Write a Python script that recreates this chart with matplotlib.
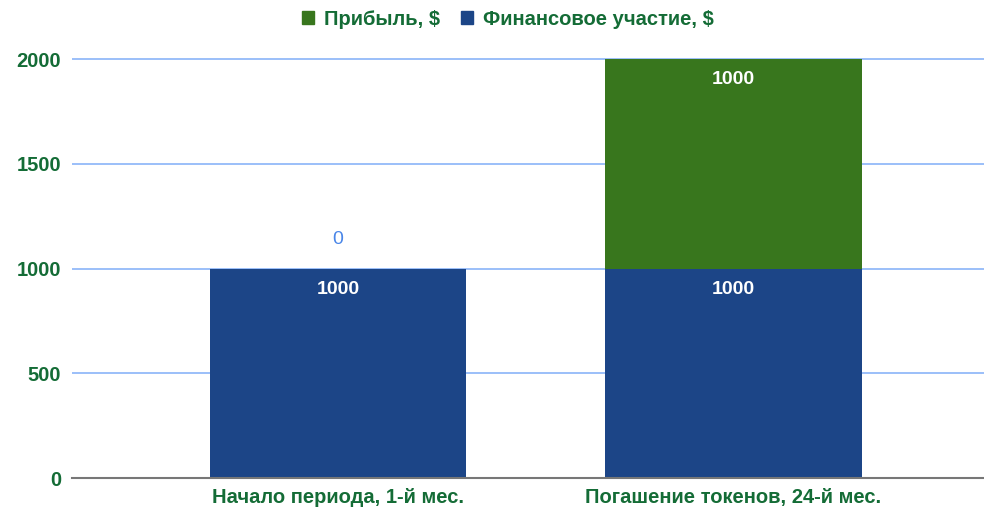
from matplotlib import pyplot as plt
import numpy as np

# chart data
categories = ["Начало периода, 1-й мес.", "Погашение токенов, 24-й мес."]
invest = [1000, 1000]		# Финансовое участие, $
profit = [0, 1000]			# Прибыль, $
yticks = [0, 500, 1000, 1500, 2000]

green = "#38761d"
blue = "#1c4587"
text_green = "#146c36"

plt.rcParams['font.family'] = ['Liberation Sans', 'DejaVu Sans']
plt.rcParams['font.weight'] = 'bold'

fig = plt.figure(figsize=(9.84, 5.09), dpi=100)
ax = fig.add_axes([0.0732, 0.0609, 0.9268, 0.8252])

x = np.arange(len(categories))
w = 0.65
ax.bar(x, invest, width=w, color=blue, zorder=3)
ax.bar(x, profit, width=w, bottom=invest, color=green, zorder=3)

# data labels
for i in range(len(categories)):
	ax.annotate(str(invest[i]), (x[i], invest[i]), xytext=(0, -15), textcoords="offset points",
				ha="center", va="center", color="white", fontsize=14, fontweight="bold", zorder=4)
	top = invest[i] + profit[i]
	if profit[i] > 0:
		ax.annotate(str(profit[i]), (x[i], top), xytext=(0, -15), textcoords="offset points",
					ha="center", va="center", color="white", fontsize=14, fontweight="bold", zorder=4)
	else:
		ax.annotate(str(profit[i]), (x[i], top), xytext=(0, 21), textcoords="offset points",
					ha="center", va="center", color="#4a86e8", fontsize=14, fontweight="normal", zorder=4)

ax.set_xlim(-0.673, 1.635)
ax.set_ylim(0, 2005)
ax.set_yticks(yticks)
ax.set_yticklabels([str(t) for t in yticks])
ax.set_xticks(x)
ax.set_xticklabels(categories)
ax.tick_params(axis="both", length=0, colors=text_green, labelsize=14.5)
ax.tick_params(axis="y", pad=8)
ax.tick_params(axis="x", pad=7)
for lab in ax.get_xticklabels() + ax.get_yticklabels():
	lab.set_fontweight("bold")

ax.grid(axis="y", color="#8ab4f8", linewidth=1.2, zorder=0)
ax.set_axisbelow(True)
for s in ["top", "right", "left"]:
	ax.spines[s].set_visible(False)
ax.spines["bottom"].set_color("#777777")
ax.spines["bottom"].set_linewidth(1.5)
ax.spines["bottom"].set_zorder(5)

# legend
handles = [plt.Rectangle((0, 0), 1, 1, color=green), plt.Rectangle((0, 0), 1, 1, color=blue)]
leg = fig.legend(handles, ["Прибыль, $", "Финансовое участие, $"], loc="center",
				 bbox_to_anchor=(0.516, 0.962), ncol=2, frameon=False, handlelength=0.6,
				 handleheight=0.6, handletextpad=0.5, columnspacing=1.05,
				 prop={"weight": "bold", "size": 14.5})
for t in leg.get_texts():
	t.set_color(text_green)

fig.savefig("out.png", dpi=100)
